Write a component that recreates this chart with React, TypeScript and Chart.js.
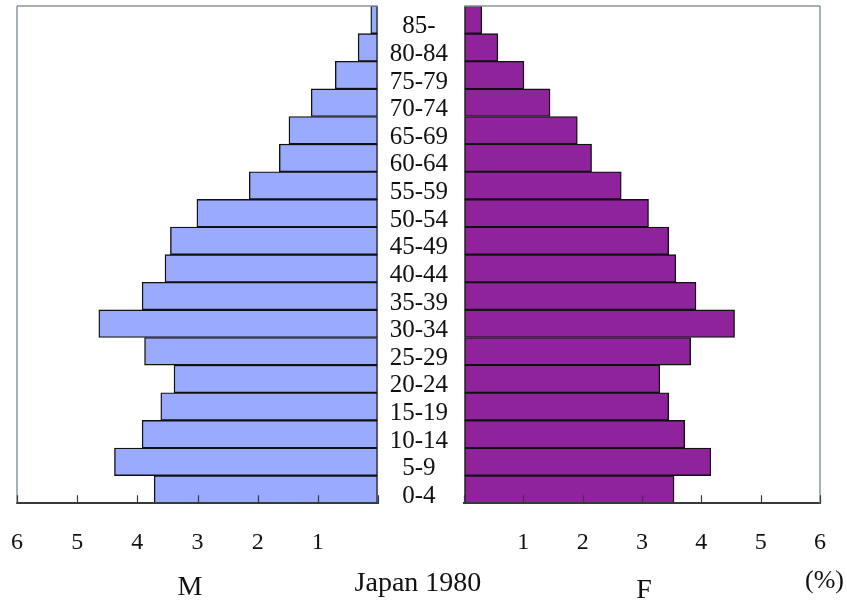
import React, { useEffect, useRef } from 'react';
import { Chart, registerables } from 'chart.js';

Chart.register(...registerables);

const ageGroups = ['0-4', '5-9', '10-14', '15-19', '20-24', '25-29', '30-34', '35-39', '40-44', '45-49', '50-54', '55-59', '60-64', '65-69', '70-74', '75-79', '80-84', '85-'];
const maleShare = [3.72, 4.38, 3.92, 3.61, 3.39, 3.88, 4.64, 3.92, 3.54, 3.45, 3.01, 2.14, 1.64, 1.48, 1.11, 0.71, 0.33, 0.12];
const femaleShare = [3.54, 4.16, 3.72, 3.45, 3.30, 3.82, 4.56, 3.91, 3.57, 3.45, 3.11, 2.65, 2.15, 1.91, 1.45, 1.01, 0.57, 0.30];
const axisTicks = [0, 1, 2, 3, 4, 5, 6];
const leftTitle = 'M';
const rightTitle = 'F';
const chartTitle = 'Japan 1980';
const unitLabel = '(%)';

const SERIF = '"Liberation Serif", "Times New Roman", serif';
const FRAME = '#86999e';
const AXIS = '#333b3b';

function framePlugin(side: 'left' | 'right') {
  return {
    id: 'frame-' + side,
    afterDraw(chart: any) {
      const { ctx, chartArea } = chart;
      const { left, right, top, bottom } = chartArea;
      ctx.save();
      ctx.strokeStyle = FRAME;
      ctx.lineWidth = 1.5;
      ctx.beginPath();
      ctx.moveTo(left, top);
      ctx.lineTo(right, top);
      const vx = side === 'left' ? left : right;
      ctx.moveTo(vx, top);
      ctx.lineTo(vx, bottom);
      ctx.stroke();
      // inward tick marks
      const xs = chart.scales.x;
      ctx.strokeStyle = AXIS;
      ctx.lineWidth = 1.2;
      ctx.beginPath();
      xs.ticks.forEach((t: any) => {
        const px = Math.round(xs.getPixelForValue(t.value)) + 0.5;
        ctx.moveTo(px, bottom);
        ctx.lineTo(px, bottom - 8);
      });
      ctx.stroke();
      ctx.restore();
    },
  };
}

function xScale(reverse: boolean) {
  return {
    type: 'linear' as const,
    reverse,
    min: 0,
    max: 6,
    afterBuildTicks: (scale: any) => {
      scale.ticks = axisTicks.map((v) => ({ value: v }));
    },
    afterFit: (scale: any) => {
      scale.paddingLeft = 0;
      scale.paddingRight = 0;
    },
    grid: { display: true, drawOnChartArea: false, drawTicks: false },
    border: { display: true, color: AXIS, width: 2, z: 1 },
    ticks: {
      padding: 25,
      color: '#111',
      font: { family: SERIF, size: 24 },
      maxRotation: 0,
      callback: (v: any) => (v === 0 ? '' : String(v)),
    },
  };
}

export default function App() {
  const leftRef = useRef<HTMLCanvasElement>(null);
  const rightRef = useRef<HTMLCanvasElement>(null);

  useEffect(() => {
    const left = new Chart(leftRef.current as HTMLCanvasElement, {
      type: 'bar',
      data: {
        labels: ageGroups,
        datasets: [
          {
            data: maleShare,
            backgroundColor: '#9aabff',
            borderColor: '#111',
            borderWidth: 1.4,
            borderSkipped: false,
            barPercentage: 1,
            categoryPercentage: 1,
          },
        ],
      },
      options: {
        indexAxis: 'y',
        animation: false,
        responsive: false,
        maintainAspectRatio: false,
        layout: { padding: { left: 17, right: 2, top: 6, bottom: 24 } },
        plugins: { legend: { display: false }, tooltip: { enabled: false } },
        scales: {
          x: xScale(true) as any,
          y: { type: 'category', reverse: true, display: false },
        },
      },
      plugins: [framePlugin('left')],
    });

    const right = new Chart(rightRef.current as HTMLCanvasElement, {
      type: 'bar',
      data: {
        labels: ageGroups,
        datasets: [
          {
            data: femaleShare,
            backgroundColor: '#8e239c',
            borderColor: '#111',
            borderWidth: 1.4,
            borderSkipped: false,
            barPercentage: 1,
            categoryPercentage: 1,
          },
        ],
      },
      options: {
        indexAxis: 'y',
        animation: false,
        responsive: false,
        maintainAspectRatio: false,
        layout: { padding: { left: 0, right: 27, top: 6, bottom: 24 } },
        plugins: { legend: { display: false }, tooltip: { enabled: false } },
        scales: {
          x: xScale(false) as any,
          y: {
            type: 'category',
            reverse: true,
            position: 'left',
            afterFit: (scale: any) => {
              scale.width = 86;
              scale.paddingTop = 0;
              scale.paddingBottom = 0;
            },
            grid: { display: false, drawTicks: false },
            border: { display: false },
            ticks: {
              autoSkip: false,
              crossAlign: 'center',
              padding: 16,
              labelOffset: 7,
              color: '#111',
              font: { family: SERIF, size: 25 },
            },
          },
        },
      },
      plugins: [framePlugin('right')],
    });

    return () => {
      left.destroy();
      right.destroy();
    };
  }, []);

  const textBase: React.CSSProperties = {
    position: 'absolute',
    fontFamily: SERIF,
    fontSize: 28,
    lineHeight: '28px',
    color: '#111',
    whiteSpace: 'nowrap',
  };

  return (
    <div
      style={{
        position: 'fixed',
        left: 0,
        top: 0,
        width: 847,
        height: 606,
        background: '#fff',
        overflow: 'hidden',
      }}
    >
      <canvas ref={leftRef} width={380} height={606} style={{ position: 'absolute', left: 0, top: 0 }} />
      <canvas ref={rightRef} width={469} height={606} style={{ position: 'absolute', left: 378, top: 0 }} />
      <div style={{ ...textBase, left: 190, top: 572, transform: 'translateX(-50%)' }}>{leftTitle}</div>
      <div style={{ ...textBase, left: 418, top: 568, transform: 'translateX(-50%)' }}>{chartTitle}</div>
      <div style={{ ...textBase, left: 644, top: 575, transform: 'translateX(-50%)' }}>{rightTitle}</div>
      <div style={{ ...textBase, left: 805, top: 567, fontSize: 26, lineHeight: '26px' }}>{unitLabel}</div>
    </div>
  );
}
